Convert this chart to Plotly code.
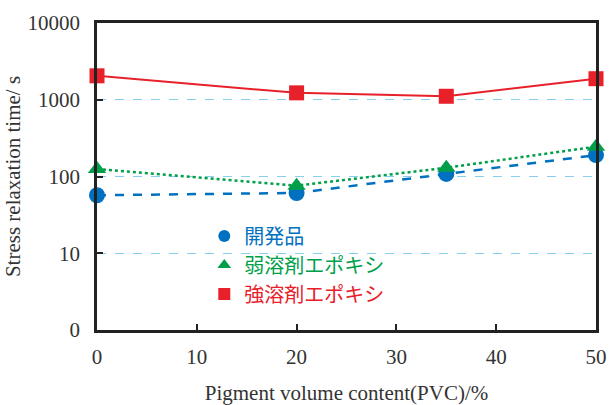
import plotly.graph_objects as go

pvc = [0, 20, 35, 50]
dev = [57, 61, 108, 190]          # 開発品
weak = [125, 76, 130, 245]        # 弱溶剤エポキシ
strong = [2050, 1230, 1110, 1880] # 強溶剤エポキシ

y_tickvals = [1, 10, 100, 1000, 10000]
y_ticktext = ["0", "10", "100", "1000", "10000"]
x_tickvals = [0, 10, 20, 30, 40, 50]

BLUE = "#0070C0"
GREEN = "#00A04B"
RED = "#E8202A"

series = [
    ("開発品", dev, BLUE, "circle", "dash", 16),
    ("弱溶剤エポキシ", weak, GREEN, "triangle-up", "dot", 16),
    ("強溶剤エポキシ", strong, RED, "square", "solid", 15),
]

fig = go.Figure()
for name, vals, col, sym, dash, ms in series:
    fig.add_trace(go.Scatter(
        x=pvc, y=vals, mode="lines+markers", showlegend=False,
        line=dict(color=col, width=2.5 if dash != "solid" else 2, dash=dash),
        marker=dict(color=col, symbol=sym, size=ms),
        cliponaxis=False, hoverinfo="skip",
    ))
for name, vals, col, sym, dash, ms in series:
    fig.add_trace(go.Scatter(
        x=[None], y=[None], mode="markers",
        name=f"<span style='color:{col}'>{name}</span>",
        marker=dict(color=col, symbol=sym, size=15),
    ))

fig.update_layout(
    width=613, height=405,
    margin=dict(l=97, r=17, t=23, b=75),
    paper_bgcolor="white", plot_bgcolor="white",
    font=dict(family="Liberation Serif, Times New Roman, serif", size=21, color="#333"),
    legend=dict(
        x=0.215, y=0.37, xanchor="left", yanchor="top",
        bgcolor="rgba(0,0,0,0)",
        font=dict(family="Noto Sans CJK JP, sans-serif", size=20),
        tracegroupgap=0, itemsizing="constant", itemwidth=30,
    ),
    xaxis=dict(
        range=[0, 50], tickvals=x_tickvals, ticks="inside", ticklen=6, tickwidth=1.5,
        tickcolor="#222", showline=True, linecolor="#222", linewidth=2.5, mirror=True,
        showgrid=False, zeroline=False, ticklabelstandoff=6, automargin=False,
        title=dict(text="Pigment volume content(PVC)/%", standoff=26, font=dict(size=21)),
    ),
    yaxis=dict(
        type="log", range=[0, 4], tickvals=y_tickvals, ticktext=y_ticktext,
        ticks="inside", ticklen=6, tickwidth=1.5, tickcolor="#222",
        showline=True, linecolor="#222", linewidth=2.5, mirror=True,
        showgrid=True, gridcolor="#86CFEF", griddash="dash", gridwidth=1,
        zeroline=False, ticklabelstandoff=10, automargin=False,
        title=dict(text="Stress relaxation time/ s", standoff=2, font=dict(size=21)),
    ),
)

fig.write_html("out.html", config={"displayModeBar": False},
               post_script="document.body.style.margin='0';")
